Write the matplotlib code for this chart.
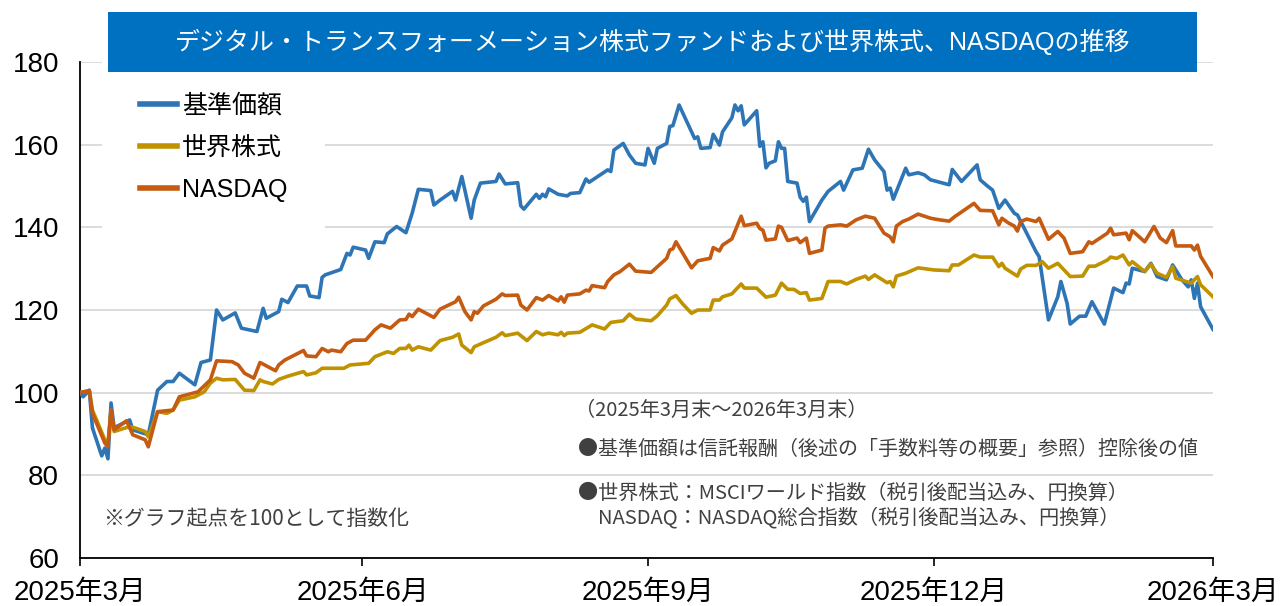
import pandas as pd
import matplotlib
matplotlib.use("Agg")
import matplotlib.pyplot as plt
from matplotlib.patches import Rectangle

plt.rcParams['font.family'] = ['Liberation Sans', 'Noto Sans CJK JP', 'DejaVu Sans']

# --- data (days after 2025-03-31, index values) ---
start = pd.Timestamp('2025-03-31')
end = pd.Timestamp('2026-03-31')

fund_days = [0, 1, 3, 4, 7, 8, 9, 10, 11, 16, 17, 22, 25, 28, 30, 32, 37, 39, 42, 44,
             46, 50, 52, 57, 59, 60, 64, 65, 67, 70, 73, 74, 77, 78, 79, 84, 86, 87, 88, 92,
             93, 95, 98, 99, 102, 105, 107, 109, 113, 114, 116, 120, 121, 123, 126, 127, 129, 134, 135, 137,
             141, 142, 143, 147, 148, 149, 150, 151, 154, 157, 158, 161, 163, 164, 170, 171, 172, 175, 177, 179,
             182, 183, 185, 186, 189, 190, 191, 193, 198, 199, 200, 203, 204, 206, 207, 210, 211, 212, 213, 214,
             218, 219, 220, 221, 222, 224, 225, 226, 227, 228, 231, 232, 233, 234, 235, 239, 241, 245, 246, 249,
             252, 254, 256, 259, 260, 261, 262, 266, 267, 270, 272, 274, 280, 281, 284, 289, 290, 292, 294, 296,
             298, 301, 302, 308, 309, 312, 315, 316, 318, 319, 322, 324, 326, 330, 333, 336, 337, 338, 339, 343,
             345, 347, 350, 352, 355, 357, 358, 359, 360, 361, 365]
fund_vals = [100, 99, 100.6, 91.5, 84.7, 86.6, 84, 97.5, 91.5, 93.4, 91, 89.8, 100.6, 102.7, 102.7, 104.7, 101.9, 107.3, 107.9, 120,
             117.6, 119.3, 115.6, 114.8, 120.4, 118, 119.6, 122.6, 121.8, 125.8, 125.8, 123.4, 123, 127.9, 128.5, 129.8, 133.7, 133.3, 135.2, 134.5,
             132.5, 136.5, 136.3, 138.4, 140.2, 138.7, 143.4, 149.2, 148.9, 145.4, 146.6, 148.7, 146.6, 152.3, 142.2, 146.6, 150.7, 151.1, 152.9, 150.5,
             150.8, 145.2, 144.4, 148, 147, 148, 147.4, 149.3, 148, 147.6, 148.2, 148.4, 151.7, 150.9, 153.9, 153.5, 158.7, 160.3, 157.5, 155.5,
             155.1, 159.1, 155.5, 159.1, 160.3, 164.4, 164.6, 169.6, 161.5, 161.9, 159.1, 159.3, 162.5, 159.9, 163.1, 166.5, 169.6, 168.2, 169.4, 164.8,
             168.2, 159.6, 160.7, 154.4, 155.5, 156.1, 160.7, 159.1, 159.1, 151.1, 150.7, 147.3, 146.3, 147.3, 141.4, 146.6, 148.7, 151.1, 149, 153.9,
             154.3, 158.9, 156.3, 153.5, 149, 149.5, 146.8, 154.3, 152.7, 153.2, 152.7, 151.5, 150.3, 154, 151.1, 155.1, 151.5, 150.2, 149, 144.6,
             146.6, 143.4, 143, 134.1, 132.9, 117.6, 123.2, 126.9, 121.6, 116.6, 118.5, 118.5, 122, 116.6, 125.3, 124.2, 126.5, 126.3, 130.1, 129.3,
             131.3, 128.1, 127.3, 130.9, 127.3, 125.6, 127.3, 122.8, 126.5, 120.8, 115.3]

world_days = [0, 3, 4, 8, 9, 10, 11, 16, 18, 21, 22, 25, 28, 30, 32, 37, 40, 42, 44, 46,
              50, 53, 56, 58, 59, 62, 64, 67, 72, 73, 76, 78, 85, 87, 93, 95, 99, 101, 103, 105,
              106, 107, 109, 113, 116, 120, 122, 123, 126, 127, 130, 134, 136, 137, 141, 144, 147, 149, 151, 154,
              155, 156, 157, 161, 165, 169, 171, 175, 177, 179, 184, 186, 189, 190, 192, 194, 197, 199, 203, 204,
              206, 207, 210, 213, 214, 218, 221, 224, 226, 228, 230, 232, 234, 235, 239, 241, 245, 247, 250, 253,
              254, 256, 260, 261, 262, 263, 266, 270, 275, 280, 281, 283, 288, 290, 294, 296, 297, 298, 302, 303,
              305, 308, 310, 312, 315, 319, 323, 325, 327, 331, 332, 334, 336, 338, 339, 343, 345, 347, 350, 352,
              353, 358, 360, 361, 365]
world_vals = [100, 100.5, 95.8, 88.6, 87.8, 95.8, 90.6, 91.8, 91.4, 90.6, 89.3, 95.4, 95, 95.8, 98.2, 99, 100.2, 102.3, 103.5, 103.1,
              103.2, 100.6, 100.5, 103.1, 102.7, 102.1, 103.2, 104, 105.1, 104.3, 104.8, 105.9, 105.9, 106.7, 107.1, 108.7, 109.9, 109.5, 110.7, 110.7,
              111.5, 110.3, 111.1, 110.3, 112.6, 113.4, 114.2, 111.5, 109.7, 111.1, 112.1, 113.4, 114.5, 113.8, 114.4, 112.6, 114.8, 114, 114.4, 114,
              114.6, 113.8, 114.4, 114.6, 116.4, 115.4, 117, 117.4, 119, 117.8, 117.4, 118.6, 121.2, 122.7, 123.5, 121.6, 119.2, 120, 120, 122.4,
              122.4, 123.2, 123.9, 126.3, 125.3, 125.3, 123.1, 123.6, 126.5, 125, 125, 124, 124.2, 122.4, 122.8, 126.9, 126.9, 126.3, 127.4, 128.2,
              127.4, 128.5, 126.6, 126.9, 125.6, 128.2, 128.9, 130.2, 129.7, 129.5, 130.9, 130.9, 133.3, 132.8, 132.8, 130.5, 131.3, 130.1, 128.2, 129.9,
              130.8, 130.8, 131.7, 130.1, 131.3, 128.1, 128.2, 130.6, 130.6, 132.1, 132.8, 132.5, 133.3, 130.9, 131.7, 129.3, 131.1, 128.9, 127.9, 130.5,
              127.7, 126.5, 128.1, 126.1, 123.2]

nasdaq_days = [0, 3, 4, 8, 9, 10, 11, 15, 17, 21, 22, 25, 30, 32, 38, 42, 44, 49, 51, 53,
               56, 58, 63, 64, 66, 72, 73, 76, 78, 80, 81, 84, 86, 88, 92, 95, 97, 100, 103, 105,
               106, 107, 109, 114, 116, 121, 122, 124, 126, 127, 128, 130, 134, 136, 137, 141, 142, 144, 147, 149,
               151, 154, 155, 156, 157, 161, 163, 164, 165, 169, 170, 172, 174, 177, 179, 184, 189, 190, 191, 192,
               197, 199, 203, 204, 206, 207, 210, 213, 214, 218, 219, 220, 221, 224, 225, 226, 228, 231, 232, 234,
               235, 239, 240, 241, 245, 247, 250, 253, 256, 259, 261, 262, 263, 265, 267, 270, 274, 277, 280, 282,
               283, 288, 290, 294, 296, 297, 299, 301, 302, 303, 305, 308, 309, 312, 315, 317, 319, 323, 325, 326,
               331, 332, 333, 337, 338, 339, 343, 346, 348, 350, 352, 353, 358, 359, 360, 361, 365]
nasdaq_vals = [100, 100.5, 95, 87.8, 86.9, 95.8, 91, 93.2, 89.8, 88.6, 86.9, 95.4, 95.8, 99, 100.2, 103.1, 107.7, 107.5, 106.7, 104.7,
               103.5, 107.3, 105.3, 106.7, 107.9, 110.2, 108.9, 108.7, 110.7, 109.9, 110.3, 109.9, 111.9, 112.7, 112.7, 115.2, 116.4, 115.6, 117.6, 117.7,
               119, 118.4, 120.2, 118.2, 120.2, 122, 123.1, 119.6, 117.6, 119.6, 119.2, 121, 122.6, 123.9, 123.5, 123.6, 121.2, 120, 123, 122.4,
               123.5, 122.2, 123.2, 121.9, 123.6, 123.9, 124.8, 124.6, 125.9, 125.4, 126.9, 128.5, 129.3, 131.1, 129.4, 129.1, 132.5, 134.5, 134.8, 136.5,
               130.2, 131.9, 132.5, 135.1, 134.3, 135.7, 137.2, 142.7, 140.4, 141, 139.7, 139.3, 136.9, 137.2, 140.3, 140, 136.8, 137.4, 136.3, 137.4,
               133.7, 134.5, 139.8, 140.3, 140.6, 140.3, 141.8, 142.7, 142.2, 138.6, 137.7, 136.5, 140.3, 141.4, 142, 143.2, 142.2, 141.8, 141.5, 142.7,
               143.2, 145.8, 144.1, 144, 140.6, 142.2, 141.1, 140.3, 139.1, 141.4, 142, 141.4, 142.2, 137.1, 139, 137.4, 133.7, 134.1, 136.5, 136.1,
               138.6, 139.8, 138.2, 138.6, 137, 139.2, 136.5, 140.2, 137.4, 136.3, 139.2, 135.5, 135.5, 134.5, 135.7, 133, 128.1]

series_labels = ['基準価額', '世界株式', 'NASDAQ']
tick_dates = ['2025-03-31', '2025-06-30', '2025-09-30', '2025-12-31', '2026-03-31']
tick_labels = ['2025年3月', '2025年6月', '2025年9月', '2025年12月', '2026年3月']
yticks = [60, 80, 100, 120, 140, 160, 180]

title = 'デジタル・トランスフォーメーション株式ファンドおよび世界株式、NASDAQの推移'
notes = [
    '（2025年3月末～2026年3月末）',
    '●基準価額は信託報酬（後述の「手数料等の概要」参照）控除後の値',
    '●世界株式：MSCIワールド指数（税引後配当込み、円換算）',
    'NASDAQ：NASDAQ総合指数（税引後配当込み、円換算）',
]
index_note = '※グラフ起点を100として指数化'

colors = ['#2e75b6', '#c09200', '#c55a11']


def to_dates(days):
    return start + pd.to_timedelta(days, unit='D')


W, H = 1280, 606
fig = plt.figure(figsize=(W / 100, H / 100), dpi=100)
ax = fig.add_axes([80 / W, 1 - 558 / H, (1213 - 80) / W, (558 - 62) / H])

lw = 2.6
ax.plot(to_dates(fund_days), fund_vals, color=colors[0], lw=lw, label=series_labels[0], zorder=3)
ax.plot(to_dates(world_days), world_vals, color=colors[1], lw=lw, label=series_labels[1], zorder=3)
ax.plot(to_dates(nasdaq_days), nasdaq_vals, color=colors[2], lw=lw, label=series_labels[2], zorder=3)

ax.set_xlim(start, end)
ax.set_ylim(60, 180)
ax.set_yticks(yticks)
ax.set_xticks(pd.to_datetime(tick_dates))
ax.set_xticklabels(tick_labels)
ax.grid(axis='y', color='#d9d9d9', lw=1.3)
ax.set_axisbelow(True)
for s in ['top', 'right']:
    ax.spines[s].set_visible(False)
for s in ['left', 'bottom']:
    ax.spines[s].set_color('black')
    ax.spines[s].set_linewidth(1.3)
ax.tick_params(axis='y', length=0, pad=15, labelsize=20)
ax.tick_params(axis='x', length=6, width=1.2, pad=10, labelsize=20, direction='out')

leg = ax.legend(loc='upper left', bbox_to_anchor=(102 / W, 1 - 56 / H), bbox_transform=fig.transFigure,
                borderaxespad=0, frameon=True, fontsize=18, handlelength=1.5, handletextpad=0.2,
                labelspacing=0.72, borderpad=1.5)
leg.get_frame().set_facecolor('white')
leg.get_frame().set_edgecolor('none')
leg.get_frame().set_alpha(1)
for line in leg.get_lines():
    line.set_linewidth(4)

# title box
fig.patches.append(Rectangle((108 / W, 1 - 72 / H), (1197 - 108) / W, 60 / H,
                             transform=fig.transFigure, facecolor='#0070c0', edgecolor='none'))
fig.text((108 + 1197) / 2 / W, 1 - 42 / H, title, color='white', fontsize=18,
         ha='center', va='center')

note_color = '#404040'
note_font = ['Noto Sans CJK JP', 'DejaVu Sans']
fig.text(103 / W, 1 - 519 / H, index_note, color=note_color, fontsize=15, va='center', ha='left',
         family=note_font)
fig.text(575 / W, 1 - 410 / H, notes[0], color=note_color, fontsize=14.5, va='center', ha='left',
         family=note_font)
fig.text(578 / W, 1 - 449 / H, notes[1], color=note_color, fontsize=14.4, va='center', ha='left',
         family=note_font)
fig.text(578 / W, 1 - 493 / H, notes[2], color=note_color, fontsize=14.5, va='center', ha='left',
         family=note_font)
fig.text(598 / W, 1 - 518 / H, notes[3], color=note_color, fontsize=14.5, va='center', ha='left',
         family=note_font)

fig.savefig('out.png', dpi=100)
